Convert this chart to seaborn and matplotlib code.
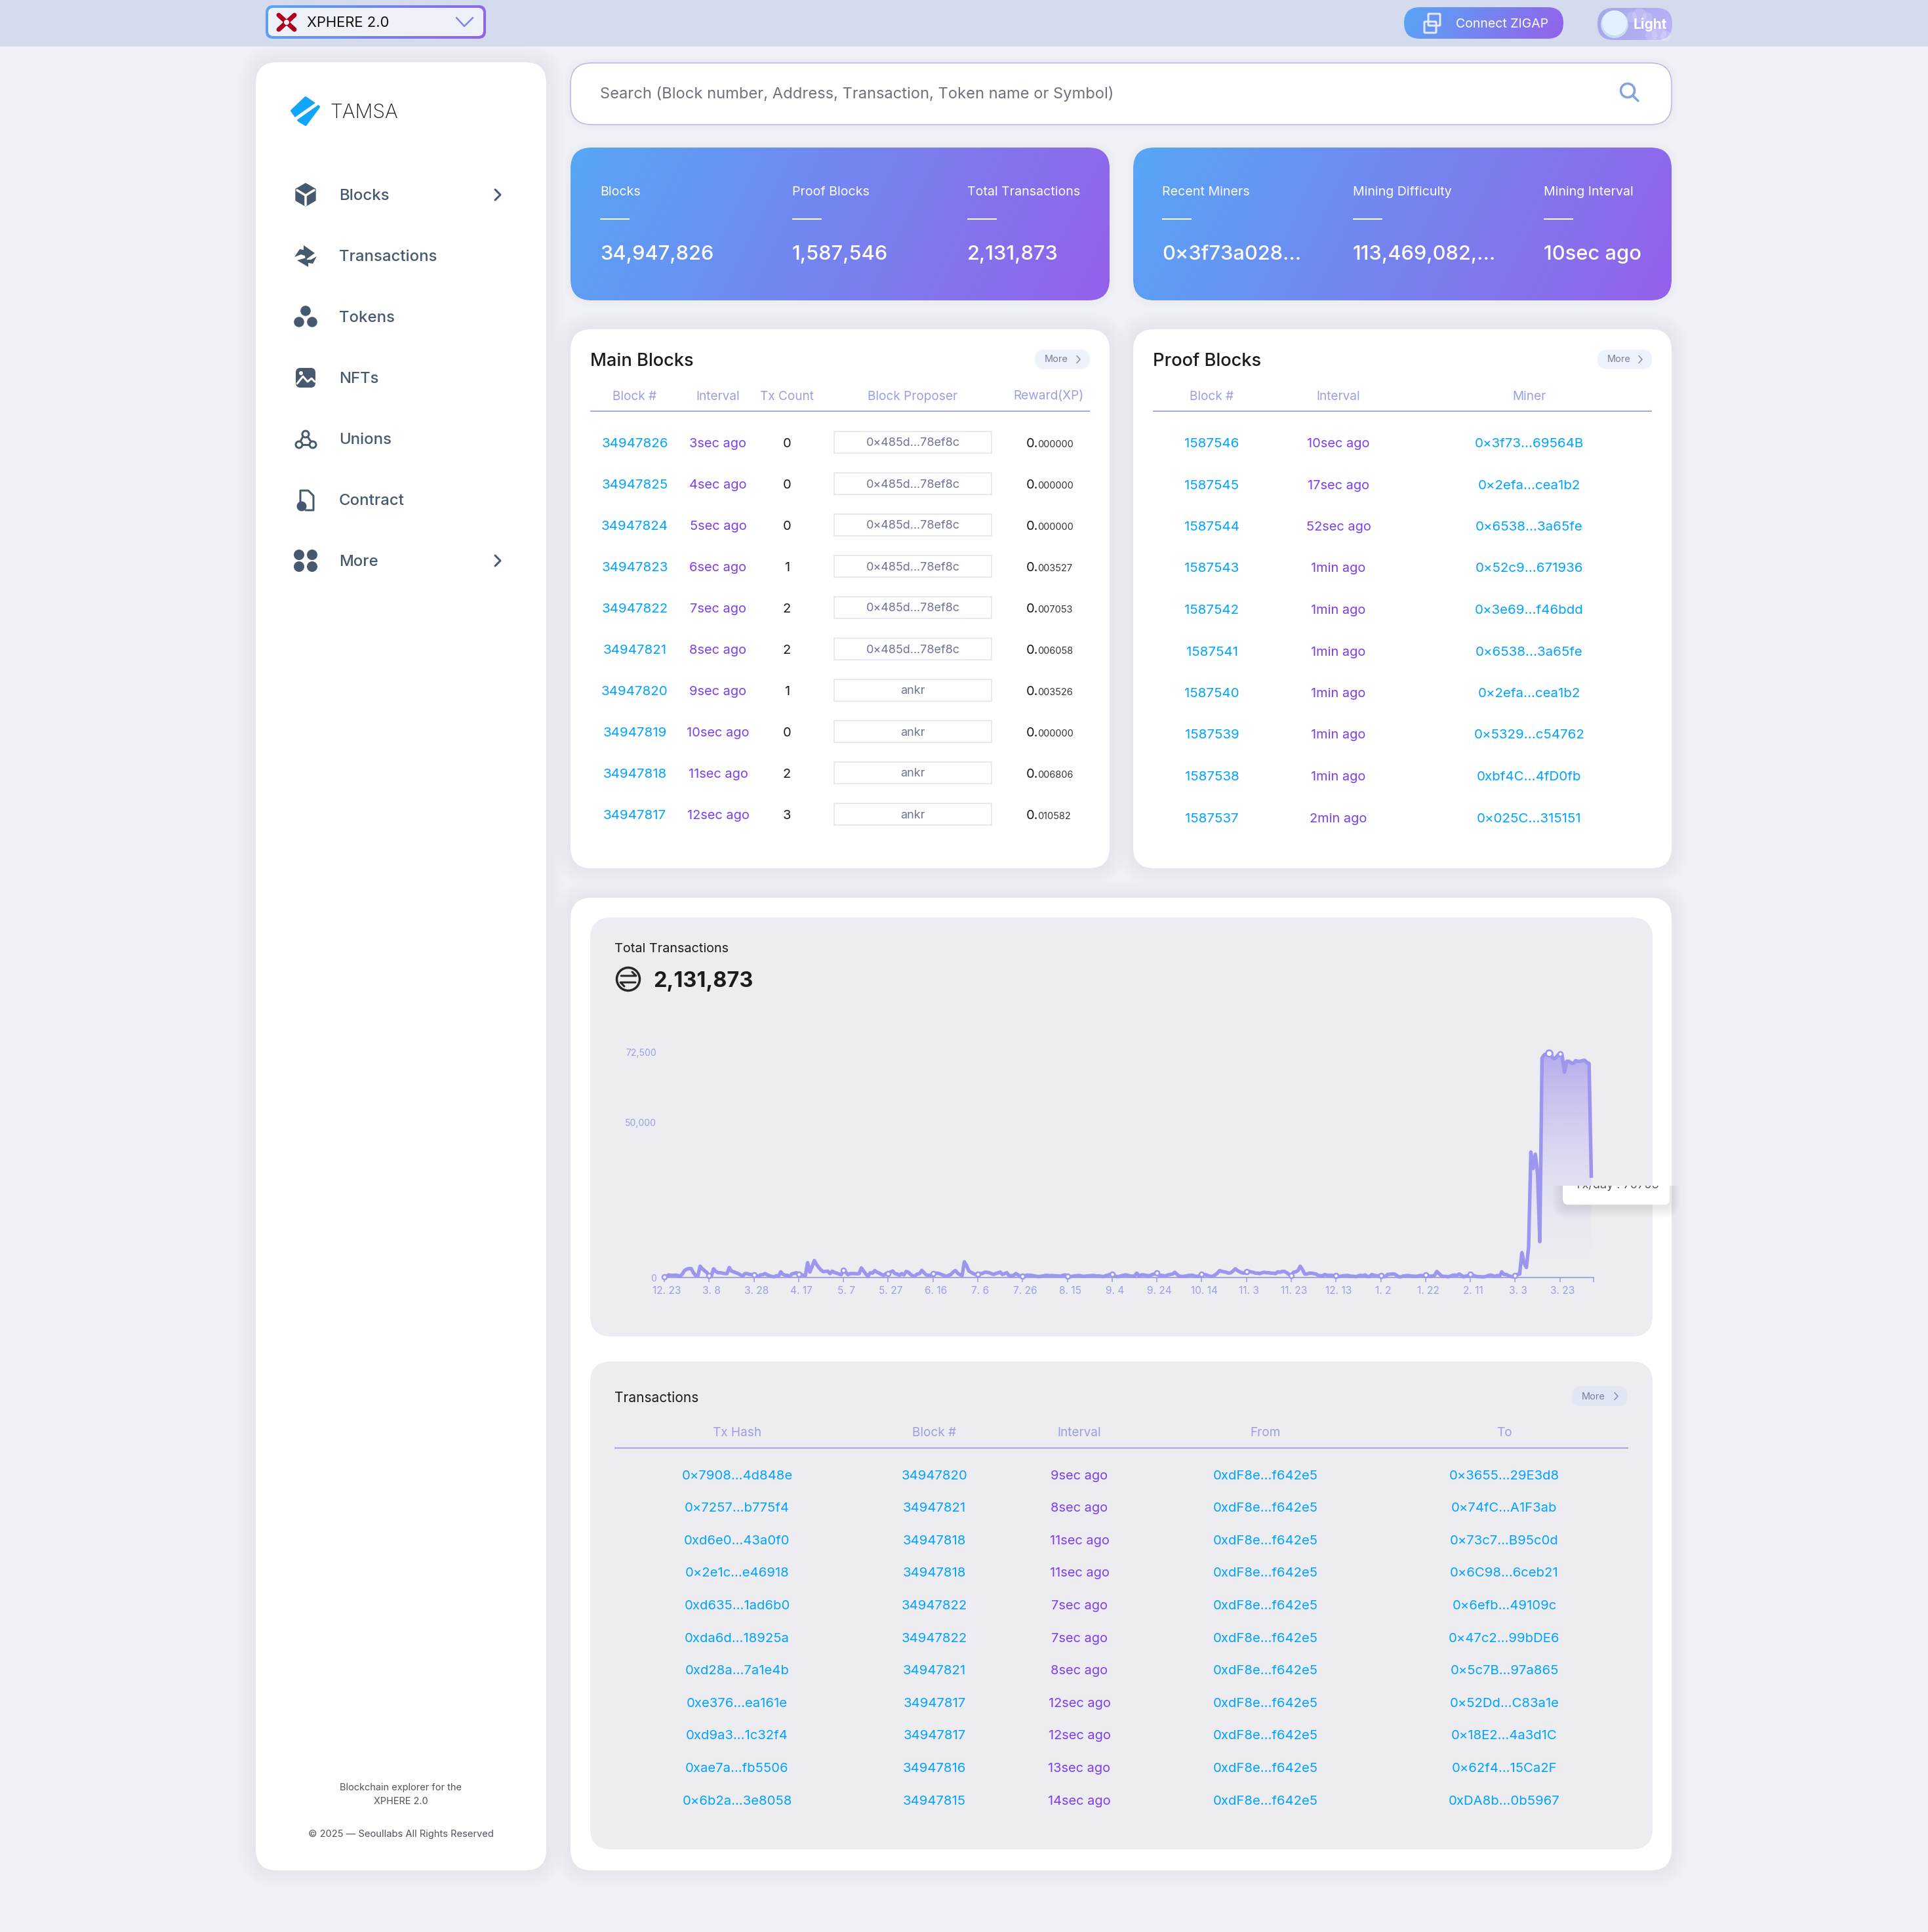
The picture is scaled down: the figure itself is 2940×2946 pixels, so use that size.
import numpy as np
import pandas as pd
import matplotlib
matplotlib.use("Agg")
import matplotlib.pyplot as plt
from matplotlib.patches import FancyBboxPatch, Circle, Polygon, Rectangle, RegularPolygon
from matplotlib.colors import to_rgb
from matplotlib.transforms import ScaledTranslation
import seaborn as sns

# ---------- data ----------
tx_per_day = [
 140,420,840,700,700,770,630,420,1050,2240,2660,2870,2870,1540,630,560,3640,2800,2170,1610,
 560,420,2800,1960,1540,1540,1400,1260,1260,3220,2100,1820,1540,1260,840,490,1260,1260,980,910,
 840,490,420,840,910,1260,840,560,350,210,560,420,1820,1050,700,700,350,1190,1330,1540,
 980,1050,700,630,4760,1750,3500,5460,4200,3220,2380,1890,1960,2030,1260,2030,1610,1400,1120,910,
 2240,1750,910,1260,1260,1260,1190,1260,3080,2100,1120,420,1540,1400,2240,1680,1400,980,700,1260,
 1260,1750,2100,1260,1120,700,1260,840,1960,1680,980,560,560,1120,1260,2310,1540,840,700,700,
 1190,1400,1400,1190,910,630,420,700,980,1750,2240,1400,910,700,5040,3850,2100,1680,1260,980,
 1050,1260,1260,1680,1680,1540,1260,980,1260,1470,1750,980,1260,1540,560,560,700,1260,840,420,
 350,560,770,700,700,560,420,280,350,490,630,700,560,630,560,490,490,420,700,840,
 350,210,350,490,560,630,560,350,420,490,560,630,630,490,490,420,280,560,700,980,
 1050,630,280,280,560,700,840,700,490,420,490,1400,490,840,840,700,560,630,980,1120,
 1400,700,700,560,560,840,980,1120,1680,980,420,350,350,490,630,700,700,420,350,560,
 1050,980,840,560,350,420,840,1400,2240,1960,1820,1680,1400,1540,2100,2800,2240,1820,1540,1400,
 1960,1960,1820,1680,1400,1400,1260,1540,1680,1540,1540,1400,1400,1260,1820,1680,1960,1960,1540,980,
 700,1680,1820,2240,3640,2520,1120,1120,1400,1400,1260,1120,700,560,560,980,700,700,700,490,
 560,350,350,560,560,700,490,420,350,280,560,700,560,840,280,350,980,700,560,560,
 560,280,350,980,1050,1120,1120,700,210,210,490,560,630,560,420,420,350,560,630,560,
 770,560,420,420,700,1960,1260,560,350,350,210,420,700,770,700,1120,700,210,490,490,
 980,840,490,280,280,210,210,350,630,770,560,350,630,420,1820,980,980,560,350,210,
 630,980,1120,8020,4570,3240,9850,40380,35100,39680,33350,11540,70630,71690,71900,72180,71690,70490,70630,71470,
 72040,71340,66060,69580,69580,69080,68870,69790,69580,69580,69790,69930,69220,68870,32080,
]
date_labels = ["12. 23","3. 8","3. 28","4. 17","5. 7","5. 27","6. 16","7. 6","7. 26","8. 15","9. 4",
               "9. 24","10. 14","11. 3","11. 23","12. 13","1. 2","1. 22","2. 11","3. 3","3. 23"]
y_ticks = [0, 50000, 72500]
y_tick_labels = ["0", "50,000", "72,500"]

menu_items = ["Blocks", "Transactions", "Tokens", "NFTs", "Unions", "Contract", "More"]
stat_labels_a = ["Blocks", "Proof Blocks", "Total Transactions"]
stat_values_a = ["34,947,826", "1,587,546", "2,131,873"]
stat_labels_b = ["Recent Miners", "Mining Difficulty", "Mining Interval"]
stat_values_b = ["0×3f73a028...", "113,469,082,...", "10sec ago"]

main_headers = ["Block #", "Interval", "Tx Count", "Block Proposer", "Reward(XP)"]
main_blocks = [34947826,34947825,34947824,34947823,34947822,34947821,34947820,34947819,34947818,34947817]
main_interval = ["3sec ago","4sec ago","5sec ago","6sec ago","7sec ago","8sec ago","9sec ago","10sec ago","11sec ago","12sec ago"]
main_txcount = [0,0,0,1,2,2,1,0,2,3]
main_proposer = ["0×485d...78ef8c"]*6 + ["ankr"]*4
main_reward = ["000000","000000","000000","003527","007053","006058","003526","000000","006806","010582"]

proof_headers = ["Block #", "Interval", "Miner"]
proof_blocks = [1587546,1587545,1587544,1587543,1587542,1587541,1587540,1587539,1587538,1587537]
proof_interval = ["10sec ago","17sec ago","52sec ago","1min ago","1min ago","1min ago","1min ago","1min ago","1min ago","2min ago"]
proof_miner = ["0×3f73...69564B","0×2efa...cea1b2","0×6538...3a65fe","0×52c9...671936","0×3e69...f46bdd",
               "0×6538...3a65fe","0×2efa...cea1b2","0×5329...c54762","0xbf4C...4fD0fb","0×025C...315151"]

tx_headers = ["Tx Hash", "Block #", "Interval", "From", "To"]
tx_hash = ["0×7908...4d848e","0×7257...b775f4","0xd6e0...43a0f0","0×2e1c...e46918","0xd635...1ad6b0","0xda6d...18925a",
           "0xd28a...7a1e4b","0xe376...ea161e","0xd9a3...1c32f4","0xae7a...fb5506","0×6b2a...3e8058"]
tx_block = [34947820,34947821,34947818,34947818,34947822,34947822,34947821,34947817,34947817,34947816,34947815]
tx_interval = ["9sec ago","8sec ago","11sec ago","11sec ago","7sec ago","7sec ago","8sec ago","12sec ago","12sec ago","13sec ago","14sec ago"]
tx_from = ["0xdF8e...f642e5"]*11
tx_to = ["0×3655...29E3d8","0×74fC...A1F3ab","0×73c7...B95c0d","0×6C98...6ceb21","0×6efb...49109c","0×47c2...99bDE6",
         "0×5c7B...97a865","0×52Dd...C83a1e","0×18E2...4a3d1C","0×62f4...15Ca2F","0xDA8b...0b5967"]

# ---------- setup ----------
sns.set_theme(style="white")
plt.rcParams["font.family"] = ["Inter", "DejaVu Sans"]
W, H = 2940, 2946
fig = plt.figure(figsize=(W/100, H/100), dpi=100, facecolor="#EFF1F6")
BLUE, PURPLE, HEAD, DARK, MENU = "#00A3FF", "#7C3FEE", "#9AA0E0", "#1A1A1F", "#47596F"
LINE = "#9D96EE"; PANEL = "#ECECF1"

ax = fig.add_axes([0, 0, 1, 1], zorder=0)
ax.set_axis_off()
PX = 0.72

def t(x, y, s, px=20, color=DARK, weight="normal", ha="center", va="center", axx=None, **kw):
    if va == "center":
        y = y + 2
    return (axx or ax).text(x, y, s, fontsize=px*PX, color=color, fontweight=weight, ha=ha, va=va, **kw)

def rrect(x0, y0, x1, y1, r, fc="white", ec="none", lw=0, z=1, alpha=None, axx=None):
    p = FancyBboxPatch((x0+r, y0+r), x1-x0-2*r, y1-y0-2*r, boxstyle=f"round,pad={r},rounding_size={r}",
                       fc=fc, ec=ec, lw=lw*PX, zorder=z, alpha=alpha)
    (axx or ax).add_patch(p)
    return p

def shadow(x0, y0, x1, y1, r, n=10, spread=26, alpha=0.008):
    for i in range(n):
        d = spread*(i+1)/n
        rrect(x0-d, y0-d, x1+d, y1+d, r+d, fc="#7F88B0", alpha=alpha, z=0.5)

def grad(x0, y0, x1, y1, r, c0="#57A6F6", c1="#9461EA", z=1.1, tilt=0.12):
    yy, xx = np.mgrid[0:1:40j, 0:1:240j]
    u = np.clip(xx*(1-tilt) + yy*tilt, 0, 1)[..., None]
    img = (1-u)*np.array(to_rgb(c0)) + u*np.array(to_rgb(c1))
    im = ax.imshow(img, extent=(x0, x1, y1, y0), aspect="auto", zorder=z, interpolation="bilinear")
    clip = rrect(x0, y0, x1, y1, r, fc="none", z=z)
    im.set_clip_path(clip)
    return im

def seg(pts, color, lw, z=3, cap="round", axx=None):
    xs, ys = zip(*pts)
    (axx or ax).plot(xs, ys, color=color, lw=lw*PX, zorder=z, solid_capstyle=cap, solid_joinstyle="round")

# top bar
ax.add_patch(Rectangle((0, 0), W, 71, fc="#D4DBEE", ec="none", zorder=0.8))
grad(405, 8, 741, 59, 11, z=1)
rrect(409, 12, 737, 55, 8, fc="#EFF1F8", z=1.5)
seg([(425, 23), (449, 45)], "#B0001E", 7); seg([(449, 23), (425, 45)], "#B0001E", 7)
ax.add_patch(Circle((437, 34), 4, fc="#EFF1F8", ec="none", zorder=3.1))
t(468, 33, "XPHERE 2.0", 22, "#111111", ha="left")
seg([(696, 27), (708, 40), (721, 27)], "#7F83F0", 2.5)
grad(2141, 11, 2384, 59, 24, z=1)
rrect(2172, 33, 2190, 50, 1, fc="none", ec="#E8E8F0", lw=3, z=3)
rrect(2178, 21, 2196, 39, 1, fc="none", ec="#E8E8F0", lw=3, z=3)
t(2220, 34.5, "Connect ZIGAP", 19.5, "white", ha="left")
grad(2436, 12, 2550, 61, 24, c0="#A4A9E6", c1="#B9B2FA", z=1)
for cx, cy, r in [(2500, 24, 11), (2488, 26, 8), (2512, 27, 8), (2530, 52, 11), (2518, 54, 9), (2540, 55, 8)]:
    ax.add_patch(Circle((cx, cy), r, fc="white", alpha=0.18, ec="none", zorder=2))
ax.add_patch(Circle((2462, 37), 21, fc="#C9DCF7", ec="none", zorder=2.5))
ax.add_patch(Circle((2462, 35), 19, fc="#E3F0FF", ec="none", zorder=2.6))
t(2491, 35, "Light", 21, "white", ha="left", weight="bold", zorder=3)

# sidebar
shadow(390, 95, 833, 2852, 32)
rrect(390, 95, 833, 2852, 32)
ax.add_patch(Polygon([(445, 169), (466, 149), (486, 163), (466, 190), (456, 184)], fc="#12A6FA", ec="#12A6FA", lw=4*PX, joinstyle="round", zorder=3))
seg([(444, 186), (488, 155)], "white", 5, 3.5, cap="butt")
t(503, 169.5, "TAMSA", 30, "#18181C", ha="left", weight="light")
menu_y = [297, 390, 483, 576, 669, 762, 855]
for name, y in zip(menu_items, menu_y):
    t(517, y, name, 24, MENU, ha="left", weight="medium")
for y in (297, 855):
    seg([(755, y-8), (763, y), (755, y+8)], MENU, 3)
# icons
ax.add_patch(RegularPolygon((466, 297), 6, radius=16.5, fc=MENU, ec=MENU, lw=2, joinstyle="round", zorder=3))
seg([(466, 298), (466, 313)], "white", 3.5, 4); seg([(466, 298), (453, 290)], "white", 3.5, 4); seg([(466, 298), (479, 290)], "white", 3.5, 4)
ax.add_patch(Polygon([(449, 392), (457, 380), (463, 381), (463, 374), (480, 386), (466, 396), (465, 390), (459, 388)], fc=MENU, ec="none", zorder=3))
ax.add_patch(Polygon([(483, 391), (477, 402), (470, 401), (470, 407), (453, 397), (467, 393), (468, 396), (474, 396)], fc=MENU, ec="none", zorder=3))
for cx, cy in [(466, 474), (456, 491), (476, 491)]:
    ax.add_patch(Circle((cx, cy), 7.8, fc=MENU, ec="none", zorder=3))
rrect(451, 561, 481, 591, 7, fc=MENU, z=3)
seg([(453, 585), (462, 574), (469, 582), (475, 577), (480, 582)], "white", 3, 4)
ax.add_patch(Circle((459, 569), 3, fc="white", ec="none", zorder=4))
seg([(466, 658), (456, 677)], MENU, 3); seg([(466, 662), (477, 677)], MENU, 3); seg([(456, 678), (477, 678)], MENU, 3)
for cx, cy in [(466, 662), (456, 678), (477, 678)]:
    ax.add_patch(Circle((cx, cy), 5, fc="white", ec=MENU, lw=3*PX, zorder=4))
seg([(458, 770), (458, 748), (470, 748), (478, 756), (478, 778), (466, 778)], MENU, 3)
ax.add_patch(Circle((460, 772), 7.5, fc=MENU, ec="none", zorder=4))
for cx, cy in [(456, 846), (476, 846), (456, 864), (476, 864)]:
    ax.add_patch(Circle((cx, cy), 8, fc=MENU, ec="none", zorder=3))
t(611, 2724, "Blockchain explorer for the", 14.5, "#50525C")
t(611, 2745, "XPHERE 2.0", 14.5, "#50525C")
t(611, 2795, "© 2025 — Seoullabs All Rights Reserved", 14.7, "#50525C")

# search
shadow(870, 96, 2549, 190, 32, n=5, spread=10)
rrect(870, 96, 2549, 190, 32, fc="white", ec="#B4B8E3", lw=1.5)
t(915, 141, "Search (Block number, Address, Transaction, Token name or Symbol)", 23.7, "#6E7182", ha="left")
ax.add_patch(Circle((2482, 138), 10.5, fc="none", ec="#83A2DE", lw=3.5*PX, zorder=3))
seg([(2490, 146), (2498, 154)], "#83A2DE", 3.5)

# stat cards
for x0, x1, labels, values, xs in [
        (870, 1692, stat_labels_a, stat_values_a, [915, 1208, 1475]),
        (1728, 2549, stat_labels_b, stat_values_b, [1772, 2063, 2354])]:
    shadow(x0, 225, x1, 458, 32, n=5, spread=10)
    grad(x0, 225, x1, 458, 32)
    for x, lab, val in zip(xs, labels, values):
        t(x, 290.5, lab, 19.6, "white", ha="left", zorder=3)
        seg([(x, 333.5), (x+45, 333.5)], "white", 2, cap="butt")
        t(x, 386.5, val, 30.8, "white", ha="left", zorder=3, weight="medium")

def more_pill(x0, y0, x1, y1, fc="#EDF2FB"):
    rrect(x0, y0, x1, y1, (y1-y0)/2, fc=fc, z=2)
    cy = (y0+y1)/2
    t(x0+33, cy-1.5, "More", 14.5, "#7A7E9A", zorder=3)
    seg([(x1-20, cy-5.5), (x1-15, cy), (x1-20, cy+5.5)], "#8A8EA8", 1.6)

# Main blocks card
shadow(870, 502, 1692, 1324, 32)
rrect(870, 502, 1692, 1324, 32)
t(900, 548.5, "Main Blocks", 27.2, DARK, ha="left", weight="medium")
more_pill(1578, 533, 1662, 563)
main_cols = [968, 1095, 1200, 1392, 1599]
for x, h in zip(main_cols, main_headers):
    t(x, 602.5, h, 19, HEAD)
seg([(900, 627), (1662, 627)], HEAD, 1.8, cap="butt")
for i in range(10):
    y = 675 + 63*i
    t(main_cols[0], y, str(main_blocks[i]), 20.5, BLUE)
    t(main_cols[1], y, main_interval[i], 20, PURPLE)
    t(main_cols[2], y, str(main_txcount[i]), 20, DARK)
    ax.add_patch(Rectangle((1272, y-17), 240, 33, fc="white", ec="#E6E7F0", lw=1.8*PX, zorder=2))
    t(main_cols[3], y-1, main_proposer[i], 18, "#6F7396", zorder=3)
    t(1565, y+7, "0.", 20, DARK, ha="left", va="baseline")
    t(1582, y+7, main_reward[i], 14.5, "#33343C", ha="left", va="baseline")

# Proof blocks card
shadow(1728, 502, 2549, 1324, 32)
rrect(1728, 502, 2549, 1324, 32)
t(1758, 548.5, "Proof Blocks", 27.2, DARK, ha="left", weight="medium")
more_pill(2436, 533, 2519, 563)
proof_cols = [1848, 2041, 2332]
for x, h in zip(proof_cols, proof_headers):
    t(x, 602.5, h, 19, HEAD)
seg([(1758, 627), (2519, 627)], HEAD, 1.8, cap="butt")
for i in range(10):
    y = 675 + 63.5*i
    t(proof_cols[0], y, str(proof_blocks[i]), 20.5, BLUE)
    t(proof_cols[1], y, proof_interval[i], 20, PURPLE)
    t(proof_cols[2], y, proof_miner[i], 20.5, BLUE)

# big card
shadow(870, 1369, 2549, 2852, 32)
rrect(870, 1369, 2549, 2852, 32)
rrect(900, 1399, 2520, 2038, 32, fc=PANEL, z=1.2)
rrect(900, 2076, 2520, 2820, 32, fc=PANEL, z=1.2)
t(937, 1445, "Total Transactions", 19.8, DARK, ha="left", zorder=3)
ax.add_patch(Circle((958, 1493), 17.5, fc="none", ec="#26262B", lw=3.5*PX, zorder=3))
seg([(947, 1488), (970, 1488), (964, 1482)], "#26262B", 3)
seg([(969, 1498), (946, 1498), (952, 1504)], "#26262B", 3)
t(996, 1494.5, "2,131,873", 32.5, DARK, ha="left", weight="bold", zorder=3)

t(937, 2129.5, "Transactions", 21, DARK, ha="left", zorder=3)
more_pill(2397, 2114, 2482, 2144, fc="#E1E6F4")
tx_cols = [1124, 1425, 1646, 1930, 2294]
for x, h in zip(tx_cols, tx_headers):
    t(x, 2183, h, 19, HEAD, zorder=3)
seg([(937, 2208), (2483, 2208)], HEAD, 1.8, cap="butt")
for i in range(11):
    y = 2248.5 + 49.6*i
    t(tx_cols[0], y, tx_hash[i], 20.3, BLUE, zorder=3)
    t(tx_cols[1], y, str(tx_block[i]), 20.3, BLUE, zorder=3)
    t(tx_cols[2], y, tx_interval[i], 20, PURPLE, zorder=3)
    t(tx_cols[3], y, tx_from[i], 20.3, BLUE, zorder=3)
    t(tx_cols[4], y, tx_to[i], 20.3, BLUE, zorder=3)

ax.set_xlim(0, W); ax.set_ylim(H, 0)

# ---------- chart ----------
top_px, base_px, left_px, right_px = 1590, 1948, 1013, 2430
cax = fig.add_axes([left_px/W, (H-base_px)/H, (right_px-left_px)/W, (base_px-top_px)/H], zorder=1)
cax.patch.set_alpha(0)
df = pd.DataFrame({"day": np.arange(len(tx_per_day)), "tx": tx_per_day})
ymax = (base_px-top_px)/4.738*1000
grad_n = 256
g = np.zeros((grad_n, 1, 4))
g[..., :3] = to_rgb("#A79EEC")
g[..., 3] = (0.82*np.linspace(1.0, 0.0, grad_n)**1.95)[:, None]
im = cax.imshow(g, extent=(0, 414, 0, 72500), origin="upper", aspect="auto", zorder=1)
poly = cax.fill_between(df["day"], df["tx"], 0, color="none", lw=0)
im.set_clip_path(poly.get_paths()[0], cax.transData)
sns.lineplot(data=df, x="day", y="tx", ax=cax, color=LINE, lw=5.4*PX, zorder=3, errorbar=None, clip_on=False,
             solid_capstyle="butt", solid_joinstyle="round")
mk = df.iloc[::20]
sns.scatterplot(data=mk, x="day", y="tx", ax=cax, s=(7*PX)**2, color="white", edgecolor=LINE, linewidth=2.6*PX, zorder=4, clip_on=False)
sns.scatterplot(data=df.iloc[[395]], x="day", y="tx", ax=cax, s=(10*PX)**2, color="white", edgecolor=LINE, linewidth=2.8*PX, zorder=4, clip_on=False)
cax.set_xlim(0, 415); cax.set_ylim(0, ymax)
cax.set_xlabel(""); cax.set_ylabel("")
cax.set_xticks(list(np.arange(len(date_labels))*20) + [415])
cax.set_xticklabels(date_labels + [""], fontsize=15.5*PX, color=HEAD)
cax.set_yticks(y_ticks); cax.set_yticklabels(y_tick_labels, fontsize=14*PX, color=HEAD)
cax.tick_params(axis="x", length=7*PX, width=1.6*PX, color=HEAD, pad=6*PX, bottom=True)
cax.tick_params(axis="y", length=0, pad=12*PX)
off = ScaledTranslation(4/100, 0, fig.dpi_scale_trans)
for lab in cax.get_xticklabels():
    lab.set_transform(lab.get_transform() + off)
sns.despine(ax=cax, left=True, top=True, right=True)
cax.spines["bottom"].set_color(HEAD); cax.spines["bottom"].set_linewidth(1.8*PX)

# clipped tooltip on top of the chart
oax = fig.add_axes([0, 0, 1, 1], zorder=2)
oax.set_axis_off(); oax.patch.set_alpha(0)
clipr = Rectangle((2300, 1808), 300, 80, transform=oax.transData)
for i in range(10):
    d = 1.6*(i+1)
    s = rrect(2383-d, 1770-d+8, 2546+d, 1837+d+4, 8+d, fc="#50506A", alpha=0.012, z=1, axx=oax)
    s.set_clip_path(clipr)
box = rrect(2383, 1770, 2546, 1837, 9, fc="white", z=2, axx=oax)
box.set_clip_path(clipr)
tt = t(2465, 1812, "Tx/day : 70703", 18, "#55565E", zorder=3, axx=oax, va="baseline", clip_on=True)
tt.set_clip_path(clipr)
oax.set_xlim(0, W); oax.set_ylim(H, 0)

fig.savefig("out.png", dpi=100, facecolor=fig.get_facecolor())
